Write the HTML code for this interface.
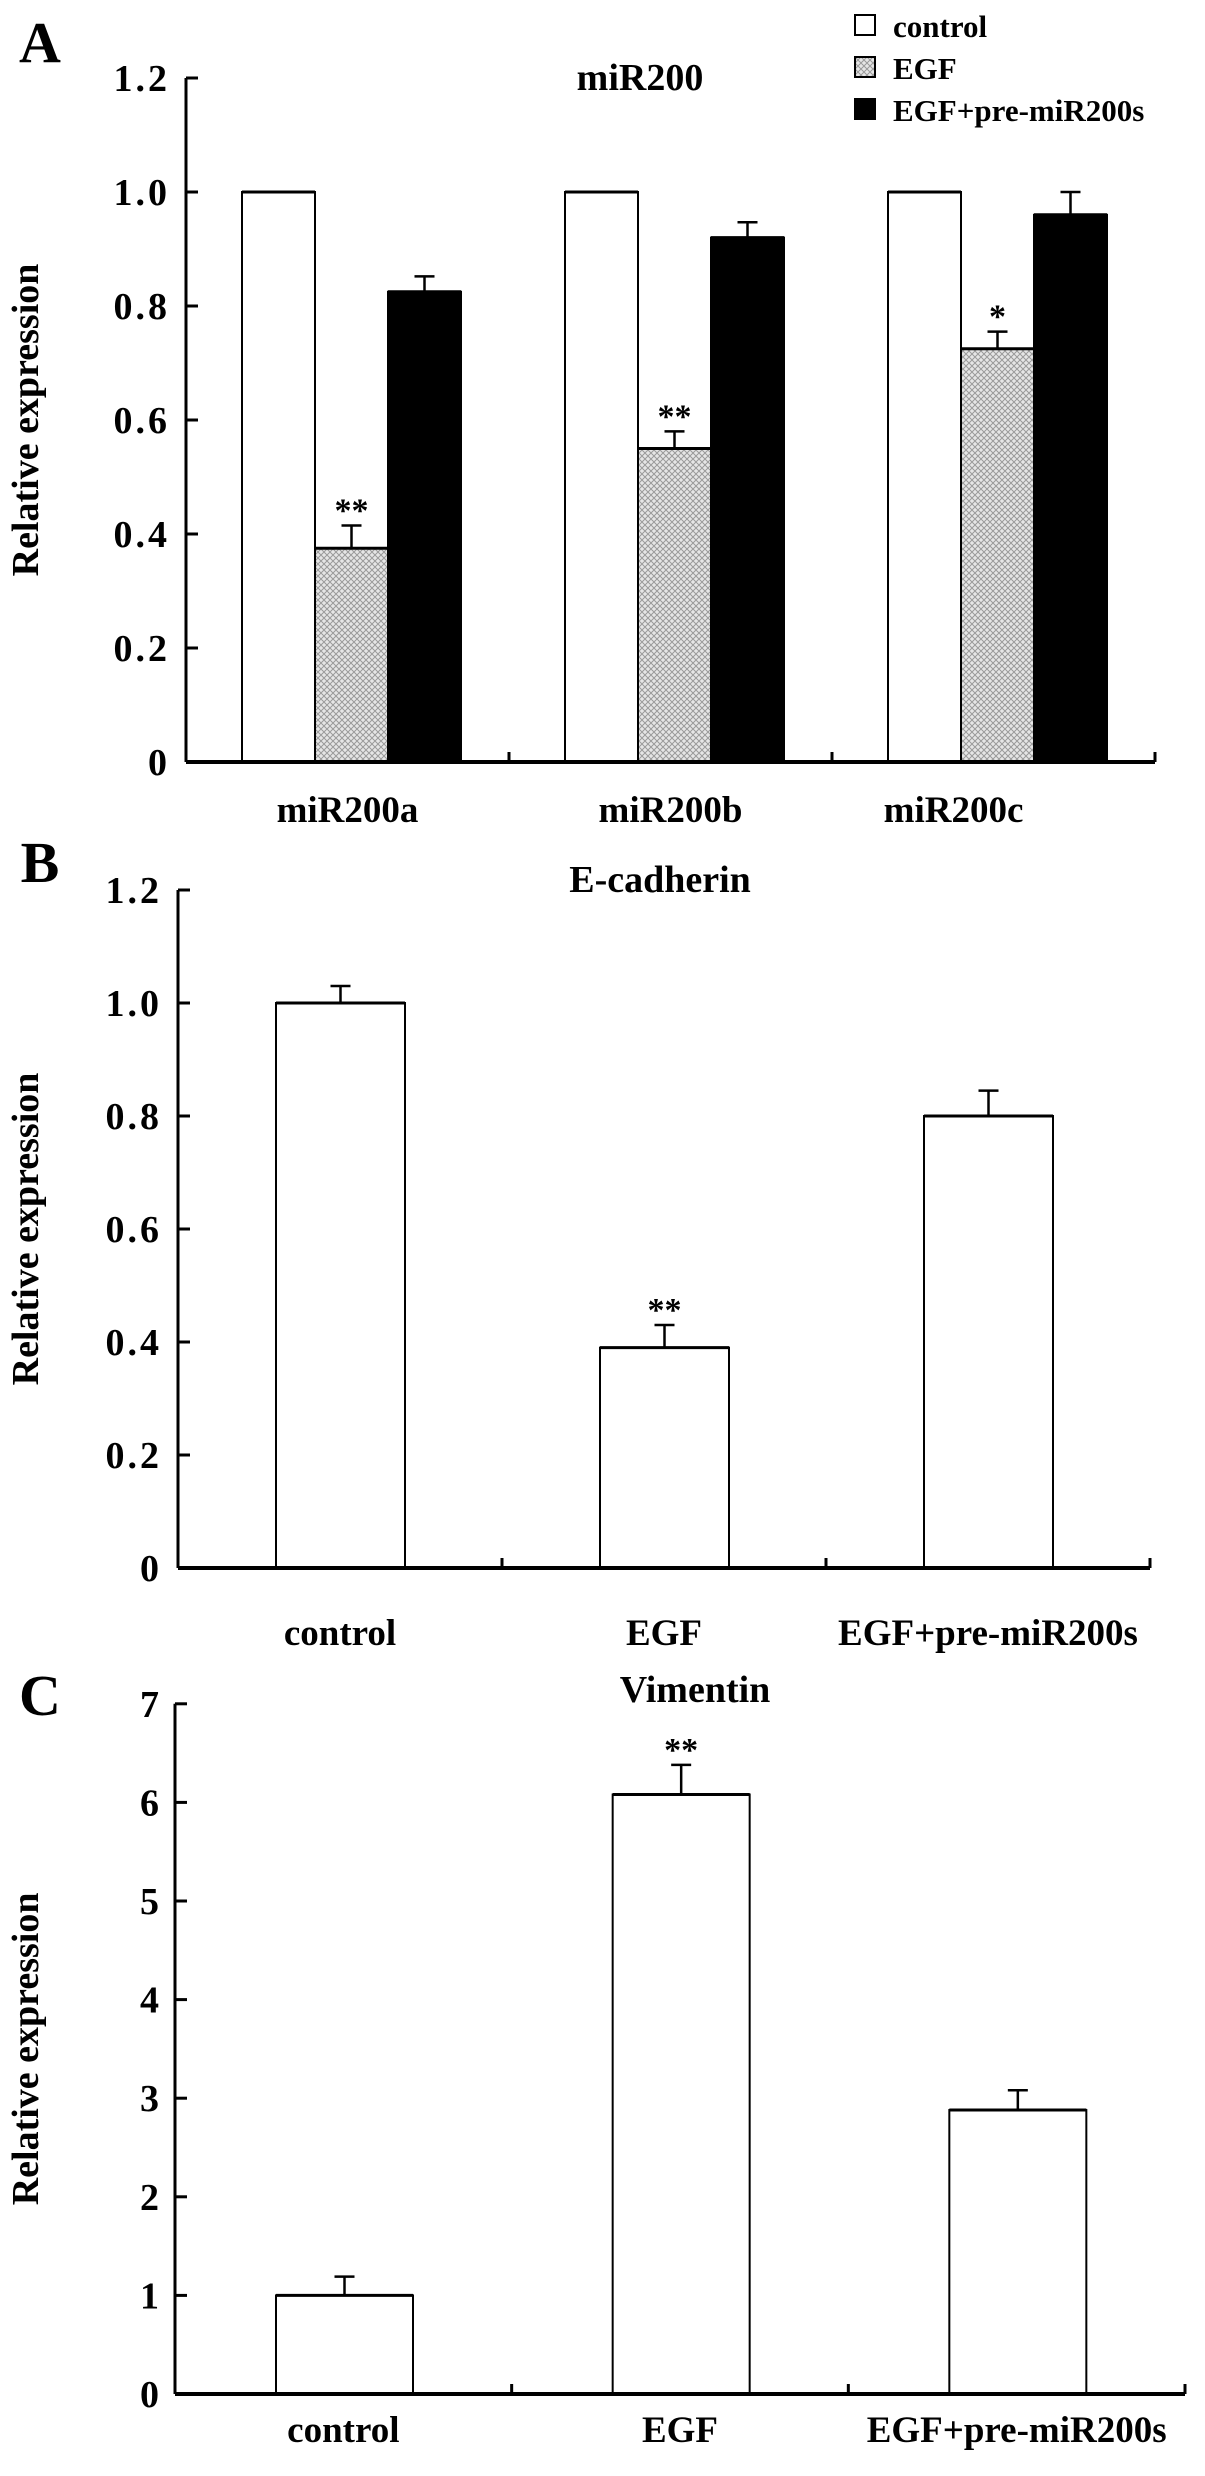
<!DOCTYPE html>
<html><head><meta charset="utf-8"><style>
body{margin:0;background:#fff}
svg text{font-family:"Liberation Serif",serif;font-weight:bold;fill:#000}
</style></head><body>
<svg id="fig" width="1205" height="2471" viewBox="0 0 1205 2471" xmlns="http://www.w3.org/2000/svg">
<defs><pattern id="hatch" width="6" height="6" patternUnits="userSpaceOnUse"><rect width="6" height="6" fill="#e6e6e6"/><path d="M0 0L6 6M6 0L0 6" stroke="#9a9a9a" stroke-width="1"/></pattern></defs>
</svg>
<script>
const aCategories=["miR200a","miR200b","miR200c"];
const aControl=[1,1,1];
const aEGF=[0.375,0.55,0.725];
const aEGFErr=[0.04,0.03,0.03];
const aPre=[0.825,0.92,0.96];
const aPreErr=[0.027,0.027,0.04];
const aSig=["**","**","*"];
const aTicks=["0","0.2","0.4","0.6","0.8","1.0","1.2"];
const bCategories=["control","EGF","EGF+pre-miR200s"];
const bValues=[1.0,0.39,0.80];
const bErr=[0.03,0.04,0.045];
const bSig=["","**",""];
const bTicks=["0","0.2","0.4","0.6","0.8","1.0","1.2"];
const cCategories=["control","EGF","EGF+pre-miR200s"];
const cValues=[1.0,6.08,2.88];
const cErr=[0.19,0.3,0.2];
const cSig=["","**",""];
const cTicks=["0","1","2","3","4","5","6","7"];

const svg=document.getElementById('fig');
const NS="http://www.w3.org/2000/svg";
function mk(tag,attrs,parent){const e=document.createElementNS(NS,tag);for(const k in attrs)e.setAttribute(k,attrs[k]);(parent||svg).appendChild(e);return e;}
function txt(s,x,y,size,anchor,name,extra){const t=mk('text',Object.assign({x:x,y:y,'font-size':size,'text-anchor':anchor||'middle'},extra||{}));t.textContent=s;


return t;}

function panel(o){
  const y=v=>o.y0-v*o.scale;
  const g=mk('g',{});
  
  
  const cw=(o.x1-o.x0)/o.cats.length;
  const ya=mk('line',{x1:o.x0,y1:y(o.ymax),x2:o.x0,y2:o.y0,stroke:'#000','stroke-width':3},g);
  
  
  o.ticks.forEach((t,i)=>{const v=parseFloat(t);
    const tk=mk('line',{x1:o.x0,y1:y(v),x2:o.x0+12,y2:y(v),stroke:'#000','stroke-width':3},g);
    
    
    txt(t,o.x0-16,y(v)+13,38,'end','y-tick-label',{'letter-spacing':o.tickSpace||0});
  });
  o.series.forEach((s,si)=>{
    s.vals.forEach((v,i)=>{
      const bx=o.x0+i*cw+o.off+si*o.bw;
      const r=mk('rect',{x:bx,y:y(v),width:o.bw,height:o.y0-y(v),fill:s.fill,stroke:'#000','stroke-width':2},g);
      
      
      mk('line',{x1:bx,y1:y(v),x2:bx+o.bw,y2:y(v),stroke:'#000','stroke-width':3},g);
      if(s.err){const cx=bx+o.bw/2;const top=y(v+s.err[i]);
        const e=mk('path',{d:`M${cx} ${y(v)}V${top}M${cx-10} ${top}H${cx+10}`,stroke:'#000','stroke-width':2.5,fill:'none'},g);
        
        
        if(s.sig&&s.sig[i])txt(s.sig[i],cx,top-4,34,'middle','significance-mark');
      }
    });
  });
  const xa=mk('line',{x1:o.x0,y1:o.y0,x2:o.x1,y2:o.y0,stroke:'#000','stroke-width':4},g);
  
  
  for(let i=1;i<=o.cats.length;i++)mk('line',{x1:o.x0+i*cw,y1:o.y0,x2:o.x0+i*cw,y2:o.y0-10,stroke:'#000','stroke-width':3},g);
  o.cats.forEach((c,i)=>txt(c,o.x0+i*cw+cw/2+(o.lblOff?o.lblOff[i]:0),o.labelY,37,'middle','x-category-label'));
  txt(o.title,o.titleX,o.titleY,38,'middle','chart-title');
  txt(o.letter,40,o.letterY,58,'middle','panel-letter');
  txt('Relative expression',0,0,38,'middle','y-axis-title',{transform:`translate(${o.ylabX},${(y(o.ymax)+o.y0)/2}) rotate(-90)`});
}

panel({name:'panel-a',x0:186,x1:1155,y0:762,scale:570,ymax:1.2,ticks:aTicks,cats:aCategories,off:56,bw:73,tickSpace:3,
  series:[{key:'control',vals:aControl,fill:'#fff'},{key:'egf',vals:aEGF,err:aEGFErr,sig:aSig,fill:'url(#hatch)'},{key:'pre',vals:aPre,err:aPreErr,fill:'#000'}],
  labelY:822,title:'miR200',titleX:640,titleY:90,letter:'A',letterY:62,ylabX:38,lblOff:[0,0,-40]});
panel({name:'panel-b',x0:178,x1:1150,y0:1568,scale:565,ymax:1.2,ticks:bTicks,cats:bCategories,off:98,bw:129,tickSpace:3,
  series:[{key:'value',vals:bValues,err:bErr,sig:bSig,fill:'#fff'}],
  labelY:1645,title:'E-cadherin',titleX:660,titleY:892,letter:'B',letterY:882,ylabX:38});
panel({name:'panel-c',x0:175,x1:1185,y0:2394,scale:98.6,ymax:7,ticks:cTicks,cats:cCategories,off:101,bw:137,
  series:[{key:'value',vals:cValues,err:cErr,sig:cSig,fill:'#fff'}],
  labelY:2442,title:'Vimentin',titleX:695,titleY:1702,letter:'C',letterY:1715,ylabX:38});

const leg=[["control","#fff"],["EGF","url(#hatch)"],["EGF+pre-miR200s","#000"]];
leg.forEach((l,i)=>{const yy=27+i*42;
  const r=mk('rect',{x:855,y:yy-12,width:20,height:20,fill:l[1],stroke:'#000','stroke-width':2});
  
  
  txt(l[0],893,yy+10,31,'start','legend-entry');
});
</script>
</body></html>
